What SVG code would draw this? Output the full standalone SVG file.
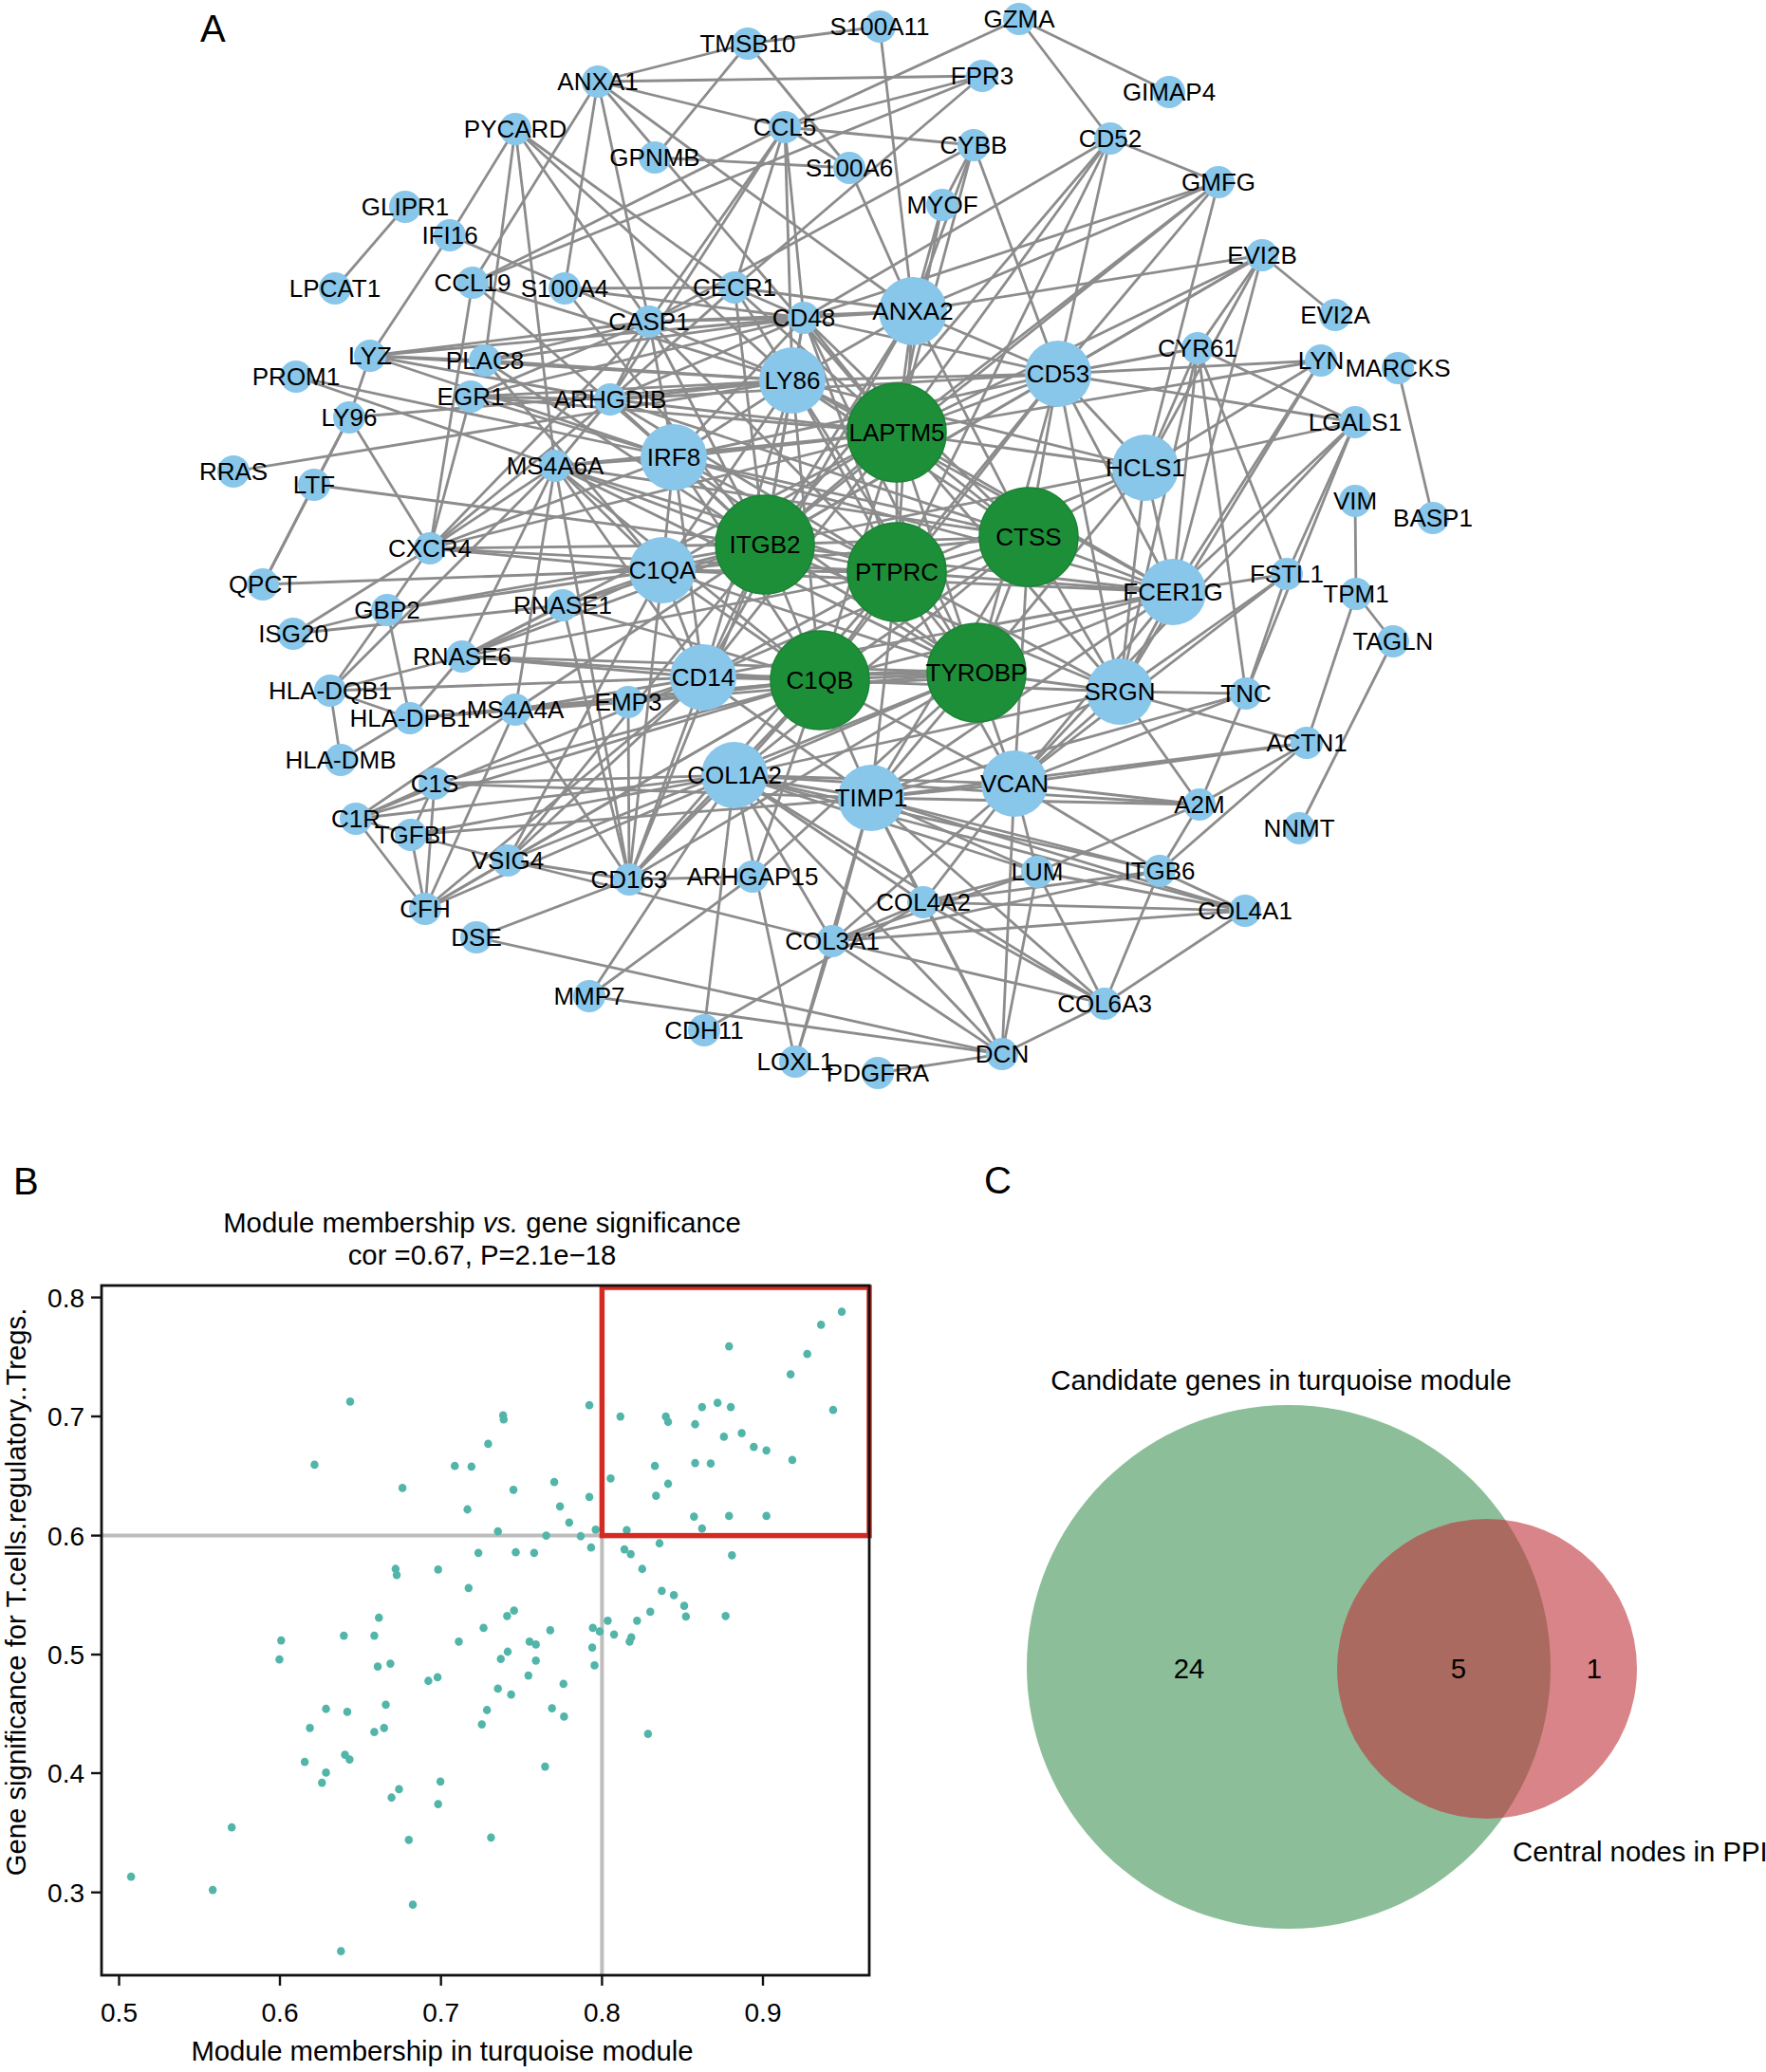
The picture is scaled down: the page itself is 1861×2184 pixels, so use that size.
<svg xmlns="http://www.w3.org/2000/svg" width="1861" height="2184" viewBox="0 0 1861 2184">
<style>
.e{stroke:#8c8c8c;stroke-width:2.8;fill:none}
.s{fill:#88c6ea}
.g{fill:#1e8f39;stroke:#188333;stroke-width:1.5}
.nl{font-family:"Liberation Sans",Arial,sans-serif;font-size:26px;fill:#000;text-anchor:middle}
.pl{font-family:"Liberation Sans",Arial,sans-serif;font-size:40px;fill:#000}
.t{font-family:"Liberation Sans",Arial,sans-serif;font-size:29.3px;fill:#000}
.tk{font-family:"Liberation Sans",Arial,sans-serif;font-size:28px;fill:#000}
.pt{fill:#52b5a9}
</style>
<rect width="1861" height="2184" fill="#fff"/>
<text class="pl" x="211" y="44">A</text>
<text class="pl" x="14" y="1259">B</text>
<text class="pl" x="1037" y="1258">C</text>
<g id="connectors">
<line class="e" x1="788" y1="46" x2="927" y2="28"/>
<line class="e" x1="788" y1="46" x2="630" y2="86"/>
<line class="e" x1="788" y1="46" x2="690" y2="166"/>
<line class="e" x1="788" y1="46" x2="895" y2="177"/>
<line class="e" x1="630" y1="86" x2="1035" y2="80"/>
<line class="e" x1="630" y1="86" x2="827" y2="134"/>
<line class="e" x1="630" y1="86" x2="595" y2="304"/>
<line class="e" x1="630" y1="86" x2="962" y2="328"/>
<line class="e" x1="630" y1="86" x2="498" y2="298"/>
<line class="e" x1="630" y1="86" x2="945" y2="456"/>
<line class="e" x1="630" y1="86" x2="684" y2="339"/>
<line class="e" x1="690" y1="166" x2="895" y2="177"/>
<line class="e" x1="827" y1="134" x2="1035" y2="80"/>
<line class="e" x1="827" y1="134" x2="1026" y2="153"/>
<line class="e" x1="827" y1="134" x2="774" y2="303"/>
<line class="e" x1="827" y1="134" x2="847" y2="335"/>
<line class="e" x1="827" y1="134" x2="835" y2="401"/>
<line class="e" x1="827" y1="134" x2="684" y2="339"/>
<line class="e" x1="827" y1="134" x2="643" y2="421"/>
<line class="e" x1="1074" y1="20" x2="827" y2="134"/>
<line class="e" x1="1074" y1="20" x2="1170" y2="146"/>
<line class="e" x1="1074" y1="20" x2="1232" y2="97"/>
<line class="e" x1="927" y1="28" x2="962" y2="328"/>
<line class="e" x1="1035" y1="80" x2="498" y2="298"/>
<line class="e" x1="1035" y1="80" x2="774" y2="303"/>
<line class="e" x1="1026" y1="153" x2="993" y2="216"/>
<line class="e" x1="1026" y1="153" x2="962" y2="328"/>
<line class="e" x1="1026" y1="153" x2="1115" y2="394"/>
<line class="e" x1="1026" y1="153" x2="684" y2="339"/>
<line class="e" x1="1026" y1="153" x2="945" y2="456"/>
<line class="e" x1="993" y1="216" x2="962" y2="328"/>
<line class="e" x1="993" y1="216" x2="945" y2="456"/>
<line class="e" x1="895" y1="177" x2="962" y2="328"/>
<line class="e" x1="895" y1="177" x2="827" y2="134"/>
<line class="e" x1="1170" y1="146" x2="1284" y2="192"/>
<line class="e" x1="1170" y1="146" x2="945" y2="456"/>
<line class="e" x1="1170" y1="146" x2="1115" y2="394"/>
<line class="e" x1="1170" y1="146" x2="806" y2="574"/>
<line class="e" x1="1170" y1="146" x2="945" y2="603"/>
<line class="e" x1="1170" y1="146" x2="847" y2="335"/>
<line class="e" x1="1284" y1="192" x2="962" y2="328"/>
<line class="e" x1="1284" y1="192" x2="847" y2="335"/>
<line class="e" x1="1284" y1="192" x2="1115" y2="394"/>
<line class="e" x1="1284" y1="192" x2="945" y2="456"/>
<line class="e" x1="1284" y1="192" x2="1207" y2="493"/>
<line class="e" x1="1284" y1="192" x2="806" y2="574"/>
<line class="e" x1="1330" y1="269" x2="1407" y2="332"/>
<line class="e" x1="1330" y1="269" x2="962" y2="328"/>
<line class="e" x1="1330" y1="269" x2="1115" y2="394"/>
<line class="e" x1="1330" y1="269" x2="1262" y2="367"/>
<line class="e" x1="1330" y1="269" x2="1207" y2="493"/>
<line class="e" x1="1330" y1="269" x2="945" y2="456"/>
<line class="e" x1="1330" y1="269" x2="806" y2="574"/>
<line class="e" x1="1330" y1="269" x2="1236" y2="624"/>
<line class="e" x1="543" y1="136" x2="474" y2="248"/>
<line class="e" x1="543" y1="136" x2="511" y2="380"/>
<line class="e" x1="543" y1="136" x2="684" y2="339"/>
<line class="e" x1="543" y1="136" x2="835" y2="401"/>
<line class="e" x1="543" y1="136" x2="585" y2="491"/>
<line class="e" x1="543" y1="136" x2="774" y2="303"/>
<line class="e" x1="427" y1="218" x2="353" y2="304"/>
<line class="e" x1="474" y1="248" x2="390" y2="375"/>
<line class="e" x1="474" y1="248" x2="684" y2="339"/>
<line class="e" x1="498" y1="298" x2="827" y2="134"/>
<line class="e" x1="498" y1="298" x2="453" y2="578"/>
<line class="e" x1="498" y1="298" x2="710" y2="482"/>
<line class="e" x1="498" y1="298" x2="835" y2="401"/>
<line class="e" x1="595" y1="304" x2="847" y2="335"/>
<line class="e" x1="595" y1="304" x2="774" y2="303"/>
<line class="e" x1="595" y1="304" x2="806" y2="574"/>
<line class="e" x1="390" y1="375" x2="684" y2="339"/>
<line class="e" x1="390" y1="375" x2="847" y2="335"/>
<line class="e" x1="390" y1="375" x2="511" y2="380"/>
<line class="e" x1="390" y1="375" x2="835" y2="401"/>
<line class="e" x1="390" y1="375" x2="643" y2="421"/>
<line class="e" x1="390" y1="375" x2="710" y2="482"/>
<line class="e" x1="390" y1="375" x2="368" y2="440"/>
<line class="e" x1="368" y1="440" x2="331" y2="511"/>
<line class="e" x1="331" y1="511" x2="277" y2="616"/>
<line class="e" x1="368" y1="440" x2="277" y2="616"/>
<line class="e" x1="312" y1="397" x2="710" y2="482"/>
<line class="e" x1="312" y1="397" x2="585" y2="491"/>
<line class="e" x1="368" y1="440" x2="453" y2="578"/>
<line class="e" x1="368" y1="440" x2="835" y2="401"/>
<line class="e" x1="496" y1="418" x2="643" y2="421"/>
<line class="e" x1="496" y1="418" x2="835" y2="401"/>
<line class="e" x1="496" y1="418" x2="453" y2="578"/>
<line class="e" x1="496" y1="418" x2="710" y2="482"/>
<line class="e" x1="496" y1="418" x2="945" y2="456"/>
<line class="e" x1="496" y1="418" x2="684" y2="339"/>
<line class="e" x1="246" y1="497" x2="835" y2="401"/>
<line class="e" x1="331" y1="511" x2="806" y2="574"/>
<line class="e" x1="511" y1="380" x2="684" y2="339"/>
<line class="e" x1="511" y1="380" x2="835" y2="401"/>
<line class="e" x1="511" y1="380" x2="806" y2="574"/>
<line class="e" x1="511" y1="380" x2="847" y2="335"/>
<line class="e" x1="511" y1="380" x2="698" y2="601"/>
<line class="e" x1="585" y1="491" x2="806" y2="574"/>
<line class="e" x1="585" y1="491" x2="945" y2="603"/>
<line class="e" x1="585" y1="491" x2="698" y2="601"/>
<line class="e" x1="585" y1="491" x2="864" y2="717"/>
<line class="e" x1="585" y1="491" x2="1029" y2="709"/>
<line class="e" x1="585" y1="491" x2="741" y2="714"/>
<line class="e" x1="585" y1="491" x2="945" y2="456"/>
<line class="e" x1="585" y1="491" x2="710" y2="482"/>
<line class="e" x1="585" y1="491" x2="453" y2="578"/>
<line class="e" x1="585" y1="491" x2="1084" y2="566"/>
<line class="e" x1="585" y1="491" x2="543" y2="748"/>
<line class="e" x1="585" y1="491" x2="663" y2="927"/>
<line class="e" x1="585" y1="491" x2="348" y2="728"/>
<line class="e" x1="453" y1="578" x2="698" y2="601"/>
<line class="e" x1="453" y1="578" x2="806" y2="574"/>
<line class="e" x1="453" y1="578" x2="945" y2="456"/>
<line class="e" x1="453" y1="578" x2="945" y2="603"/>
<line class="e" x1="453" y1="578" x2="408" y2="643"/>
<line class="e" x1="453" y1="578" x2="309" y2="668"/>
<line class="e" x1="453" y1="578" x2="710" y2="482"/>
<line class="e" x1="453" y1="578" x2="684" y2="339"/>
<line class="e" x1="277" y1="616" x2="698" y2="601"/>
<line class="e" x1="309" y1="668" x2="408" y2="643"/>
<line class="e" x1="309" y1="668" x2="593" y2="638"/>
<line class="e" x1="408" y1="643" x2="432" y2="757"/>
<line class="e" x1="408" y1="643" x2="348" y2="728"/>
<line class="e" x1="408" y1="643" x2="698" y2="601"/>
<line class="e" x1="408" y1="643" x2="806" y2="574"/>
<line class="e" x1="348" y1="728" x2="359" y2="801"/>
<line class="e" x1="348" y1="728" x2="432" y2="757"/>
<line class="e" x1="348" y1="728" x2="487" y2="692"/>
<line class="e" x1="348" y1="728" x2="741" y2="714"/>
<line class="e" x1="432" y1="757" x2="359" y2="801"/>
<line class="e" x1="432" y1="757" x2="487" y2="692"/>
<line class="e" x1="432" y1="757" x2="662" y2="740"/>
<line class="e" x1="432" y1="757" x2="864" y2="717"/>
<line class="e" x1="487" y1="692" x2="698" y2="601"/>
<line class="e" x1="487" y1="692" x2="806" y2="574"/>
<line class="e" x1="487" y1="692" x2="864" y2="717"/>
<line class="e" x1="487" y1="692" x2="1029" y2="709"/>
<line class="e" x1="487" y1="692" x2="945" y2="603"/>
<line class="e" x1="487" y1="692" x2="741" y2="714"/>
<line class="e" x1="487" y1="692" x2="945" y2="456"/>
<line class="e" x1="487" y1="692" x2="593" y2="638"/>
<line class="e" x1="487" y1="692" x2="585" y2="491"/>
<line class="e" x1="593" y1="638" x2="698" y2="601"/>
<line class="e" x1="593" y1="638" x2="864" y2="717"/>
<line class="e" x1="593" y1="638" x2="663" y2="927"/>
<line class="e" x1="593" y1="638" x2="806" y2="574"/>
<line class="e" x1="543" y1="748" x2="741" y2="714"/>
<line class="e" x1="543" y1="748" x2="864" y2="717"/>
<line class="e" x1="543" y1="748" x2="663" y2="927"/>
<line class="e" x1="543" y1="748" x2="375" y2="863"/>
<line class="e" x1="543" y1="748" x2="448" y2="958"/>
<line class="e" x1="543" y1="748" x2="806" y2="574"/>
<line class="e" x1="662" y1="740" x2="741" y2="714"/>
<line class="e" x1="662" y1="740" x2="864" y2="717"/>
<line class="e" x1="662" y1="740" x2="1029" y2="709"/>
<line class="e" x1="662" y1="740" x2="663" y2="927"/>
<line class="e" x1="458" y1="826" x2="375" y2="863"/>
<line class="e" x1="458" y1="826" x2="433" y2="880"/>
<line class="e" x1="458" y1="826" x2="448" y2="958"/>
<line class="e" x1="458" y1="826" x2="774" y2="817"/>
<line class="e" x1="458" y1="826" x2="864" y2="717"/>
<line class="e" x1="458" y1="826" x2="918" y2="841"/>
<line class="e" x1="375" y1="863" x2="433" y2="880"/>
<line class="e" x1="375" y1="863" x2="448" y2="958"/>
<line class="e" x1="375" y1="863" x2="774" y2="817"/>
<line class="e" x1="375" y1="863" x2="864" y2="717"/>
<line class="e" x1="375" y1="863" x2="741" y2="714"/>
<line class="e" x1="433" y1="880" x2="448" y2="958"/>
<line class="e" x1="433" y1="880" x2="535" y2="907"/>
<line class="e" x1="433" y1="880" x2="774" y2="817"/>
<line class="e" x1="433" y1="880" x2="918" y2="841"/>
<line class="e" x1="535" y1="907" x2="448" y2="958"/>
<line class="e" x1="535" y1="907" x2="663" y2="927"/>
<line class="e" x1="535" y1="907" x2="864" y2="717"/>
<line class="e" x1="535" y1="907" x2="698" y2="601"/>
<line class="e" x1="535" y1="907" x2="741" y2="714"/>
<line class="e" x1="535" y1="907" x2="806" y2="574"/>
<line class="e" x1="535" y1="907" x2="1029" y2="709"/>
<line class="e" x1="535" y1="907" x2="877" y2="992"/>
<line class="e" x1="448" y1="958" x2="774" y2="817"/>
<line class="e" x1="448" y1="958" x2="864" y2="717"/>
<line class="e" x1="448" y1="958" x2="741" y2="714"/>
<line class="e" x1="663" y1="927" x2="864" y2="717"/>
<line class="e" x1="663" y1="927" x2="698" y2="601"/>
<line class="e" x1="663" y1="927" x2="741" y2="714"/>
<line class="e" x1="663" y1="927" x2="1029" y2="709"/>
<line class="e" x1="663" y1="927" x2="806" y2="574"/>
<line class="e" x1="663" y1="927" x2="502" y2="988"/>
<line class="e" x1="663" y1="927" x2="774" y2="817"/>
<line class="e" x1="663" y1="927" x2="945" y2="603"/>
<line class="e" x1="502" y1="988" x2="1056" y2="1111"/>
<line class="e" x1="621" y1="1050" x2="774" y2="817"/>
<line class="e" x1="621" y1="1050" x2="793" y2="924"/>
<line class="e" x1="621" y1="1050" x2="1056" y2="1111"/>
<line class="e" x1="742" y1="1086" x2="774" y2="817"/>
<line class="e" x1="742" y1="1086" x2="973" y2="951"/>
<line class="e" x1="838" y1="1119" x2="774" y2="817"/>
<line class="e" x1="838" y1="1119" x2="918" y2="841"/>
<line class="e" x1="925" y1="1131" x2="1056" y2="1111"/>
<line class="e" x1="793" y1="924" x2="663" y2="927"/>
<line class="e" x1="793" y1="924" x2="864" y2="717"/>
<line class="e" x1="793" y1="924" x2="1029" y2="709"/>
<line class="e" x1="774" y1="817" x2="918" y2="841"/>
<line class="e" x1="774" y1="817" x2="1069" y2="826"/>
<line class="e" x1="774" y1="817" x2="877" y2="992"/>
<line class="e" x1="774" y1="817" x2="973" y2="951"/>
<line class="e" x1="774" y1="817" x2="1312" y2="960"/>
<line class="e" x1="774" y1="817" x2="1093" y2="919"/>
<line class="e" x1="774" y1="817" x2="1056" y2="1111"/>
<line class="e" x1="774" y1="817" x2="1164" y2="1058"/>
<line class="e" x1="774" y1="817" x2="1222" y2="918"/>
<line class="e" x1="774" y1="817" x2="1264" y2="848"/>
<line class="e" x1="774" y1="817" x2="864" y2="717"/>
<line class="e" x1="774" y1="817" x2="1180" y2="729"/>
<line class="e" x1="774" y1="817" x2="1029" y2="709"/>
<line class="e" x1="774" y1="817" x2="1084" y2="566"/>
<line class="e" x1="918" y1="841" x2="1069" y2="826"/>
<line class="e" x1="918" y1="841" x2="877" y2="992"/>
<line class="e" x1="918" y1="841" x2="973" y2="951"/>
<line class="e" x1="918" y1="841" x2="1312" y2="960"/>
<line class="e" x1="918" y1="841" x2="1093" y2="919"/>
<line class="e" x1="918" y1="841" x2="1222" y2="918"/>
<line class="e" x1="918" y1="841" x2="1264" y2="848"/>
<line class="e" x1="918" y1="841" x2="1056" y2="1111"/>
<line class="e" x1="918" y1="841" x2="1180" y2="729"/>
<line class="e" x1="918" y1="841" x2="1313" y2="731"/>
<line class="e" x1="918" y1="841" x2="1236" y2="624"/>
<line class="e" x1="918" y1="841" x2="1029" y2="709"/>
<line class="e" x1="918" y1="841" x2="864" y2="717"/>
<line class="e" x1="918" y1="841" x2="945" y2="603"/>
<line class="e" x1="918" y1="841" x2="1164" y2="1058"/>
<line class="e" x1="918" y1="841" x2="741" y2="714"/>
<line class="e" x1="918" y1="841" x2="1377" y2="783"/>
<line class="e" x1="1069" y1="826" x2="1180" y2="729"/>
<line class="e" x1="1069" y1="826" x2="1313" y2="731"/>
<line class="e" x1="1069" y1="826" x2="1377" y2="783"/>
<line class="e" x1="1069" y1="826" x2="1264" y2="848"/>
<line class="e" x1="1069" y1="826" x2="1093" y2="919"/>
<line class="e" x1="1069" y1="826" x2="1056" y2="1111"/>
<line class="e" x1="1069" y1="826" x2="1222" y2="918"/>
<line class="e" x1="1069" y1="826" x2="1029" y2="709"/>
<line class="e" x1="1069" y1="826" x2="1236" y2="624"/>
<line class="e" x1="1069" y1="826" x2="1356" y2="605"/>
<line class="e" x1="1069" y1="826" x2="877" y2="992"/>
<line class="e" x1="1069" y1="826" x2="973" y2="951"/>
<line class="e" x1="1069" y1="826" x2="1084" y2="566"/>
<line class="e" x1="1069" y1="826" x2="1428" y2="445"/>
<line class="e" x1="1069" y1="826" x2="864" y2="717"/>
<line class="e" x1="1093" y1="919" x2="1056" y2="1111"/>
<line class="e" x1="1093" y1="919" x2="1164" y2="1058"/>
<line class="e" x1="1093" y1="919" x2="973" y2="951"/>
<line class="e" x1="1093" y1="919" x2="1312" y2="960"/>
<line class="e" x1="1093" y1="919" x2="877" y2="992"/>
<line class="e" x1="1093" y1="919" x2="1264" y2="848"/>
<line class="e" x1="1222" y1="918" x2="1264" y2="848"/>
<line class="e" x1="1222" y1="918" x2="1377" y2="783"/>
<line class="e" x1="1222" y1="918" x2="1312" y2="960"/>
<line class="e" x1="1222" y1="918" x2="1164" y2="1058"/>
<line class="e" x1="1222" y1="918" x2="973" y2="951"/>
<line class="e" x1="1222" y1="918" x2="877" y2="992"/>
<line class="e" x1="973" y1="951" x2="1312" y2="960"/>
<line class="e" x1="973" y1="951" x2="1164" y2="1058"/>
<line class="e" x1="973" y1="951" x2="877" y2="992"/>
<line class="e" x1="973" y1="951" x2="1056" y2="1111"/>
<line class="e" x1="1312" y1="960" x2="1164" y2="1058"/>
<line class="e" x1="1312" y1="960" x2="877" y2="992"/>
<line class="e" x1="877" y1="992" x2="1056" y2="1111"/>
<line class="e" x1="877" y1="992" x2="1164" y2="1058"/>
<line class="e" x1="877" y1="992" x2="838" y2="1119"/>
<line class="e" x1="1164" y1="1058" x2="1056" y2="1111"/>
<line class="e" x1="1264" y1="848" x2="1180" y2="729"/>
<line class="e" x1="1264" y1="848" x2="1313" y2="731"/>
<line class="e" x1="1264" y1="848" x2="1377" y2="783"/>
<line class="e" x1="1377" y1="783" x2="1180" y2="729"/>
<line class="e" x1="1377" y1="783" x2="1429" y2="626"/>
<line class="e" x1="1468" y1="676" x2="1429" y2="626"/>
<line class="e" x1="1468" y1="676" x2="1369" y2="873"/>
<line class="e" x1="1429" y1="626" x2="1428" y2="528"/>
<line class="e" x1="1473" y1="388" x2="1510" y2="546"/>
<line class="e" x1="1428" y1="445" x2="1262" y2="367"/>
<line class="e" x1="1428" y1="445" x2="1115" y2="394"/>
<line class="e" x1="1428" y1="445" x2="1207" y2="493"/>
<line class="e" x1="1428" y1="445" x2="1356" y2="605"/>
<line class="e" x1="1428" y1="445" x2="1313" y2="731"/>
<line class="e" x1="1428" y1="445" x2="1236" y2="624"/>
<line class="e" x1="1392" y1="380" x2="1207" y2="493"/>
<line class="e" x1="1392" y1="380" x2="1236" y2="624"/>
<line class="e" x1="1392" y1="380" x2="1115" y2="394"/>
<line class="e" x1="1392" y1="380" x2="945" y2="456"/>
<line class="e" x1="1392" y1="380" x2="1180" y2="729"/>
<line class="e" x1="1262" y1="367" x2="1115" y2="394"/>
<line class="e" x1="1262" y1="367" x2="1207" y2="493"/>
<line class="e" x1="1262" y1="367" x2="1236" y2="624"/>
<line class="e" x1="1262" y1="367" x2="1356" y2="605"/>
<line class="e" x1="1262" y1="367" x2="1313" y2="731"/>
<line class="e" x1="1262" y1="367" x2="1180" y2="729"/>
<line class="e" x1="1356" y1="605" x2="1236" y2="624"/>
<line class="e" x1="1356" y1="605" x2="1313" y2="731"/>
<line class="e" x1="1356" y1="605" x2="1180" y2="729"/>
<line class="e" x1="1313" y1="731" x2="1180" y2="729"/>
<line class="e" x1="1207" y1="493" x2="945" y2="456"/>
<line class="e" x1="1207" y1="493" x2="1115" y2="394"/>
<line class="e" x1="1207" y1="493" x2="1236" y2="624"/>
<line class="e" x1="1207" y1="493" x2="1084" y2="566"/>
<line class="e" x1="1207" y1="493" x2="945" y2="603"/>
<line class="e" x1="1207" y1="493" x2="806" y2="574"/>
<line class="e" x1="1207" y1="493" x2="1029" y2="709"/>
<line class="e" x1="1207" y1="493" x2="1180" y2="729"/>
<line class="e" x1="1207" y1="493" x2="835" y2="401"/>
<line class="e" x1="1236" y1="624" x2="1084" y2="566"/>
<line class="e" x1="1236" y1="624" x2="1029" y2="709"/>
<line class="e" x1="1236" y1="624" x2="945" y2="603"/>
<line class="e" x1="1236" y1="624" x2="806" y2="574"/>
<line class="e" x1="1236" y1="624" x2="945" y2="456"/>
<line class="e" x1="1236" y1="624" x2="864" y2="717"/>
<line class="e" x1="1236" y1="624" x2="1180" y2="729"/>
<line class="e" x1="1236" y1="624" x2="698" y2="601"/>
<line class="e" x1="1236" y1="624" x2="741" y2="714"/>
<line class="e" x1="1236" y1="624" x2="1115" y2="394"/>
<line class="e" x1="1236" y1="624" x2="835" y2="401"/>
<line class="e" x1="1236" y1="624" x2="710" y2="482"/>
<line class="e" x1="1180" y1="729" x2="1029" y2="709"/>
<line class="e" x1="1180" y1="729" x2="1084" y2="566"/>
<line class="e" x1="1180" y1="729" x2="945" y2="603"/>
<line class="e" x1="1180" y1="729" x2="945" y2="456"/>
<line class="e" x1="1180" y1="729" x2="1115" y2="394"/>
<line class="e" x1="1180" y1="729" x2="806" y2="574"/>
<line class="e" x1="1180" y1="729" x2="864" y2="717"/>
<line class="e" x1="1115" y1="394" x2="945" y2="456"/>
<line class="e" x1="1115" y1="394" x2="962" y2="328"/>
<line class="e" x1="1115" y1="394" x2="847" y2="335"/>
<line class="e" x1="1115" y1="394" x2="835" y2="401"/>
<line class="e" x1="1115" y1="394" x2="806" y2="574"/>
<line class="e" x1="1115" y1="394" x2="945" y2="603"/>
<line class="e" x1="1115" y1="394" x2="1084" y2="566"/>
<line class="e" x1="1115" y1="394" x2="1029" y2="709"/>
<line class="e" x1="1115" y1="394" x2="864" y2="717"/>
<line class="e" x1="1115" y1="394" x2="710" y2="482"/>
<line class="e" x1="1115" y1="394" x2="643" y2="421"/>
<line class="e" x1="962" y1="328" x2="847" y2="335"/>
<line class="e" x1="962" y1="328" x2="835" y2="401"/>
<line class="e" x1="962" y1="328" x2="945" y2="456"/>
<line class="e" x1="962" y1="328" x2="774" y2="303"/>
<line class="e" x1="962" y1="328" x2="684" y2="339"/>
<line class="e" x1="962" y1="328" x2="806" y2="574"/>
<line class="e" x1="962" y1="328" x2="945" y2="603"/>
<line class="e" x1="962" y1="328" x2="1084" y2="566"/>
<line class="e" x1="962" y1="328" x2="741" y2="714"/>
<line class="e" x1="847" y1="335" x2="835" y2="401"/>
<line class="e" x1="847" y1="335" x2="945" y2="456"/>
<line class="e" x1="847" y1="335" x2="774" y2="303"/>
<line class="e" x1="847" y1="335" x2="684" y2="339"/>
<line class="e" x1="847" y1="335" x2="806" y2="574"/>
<line class="e" x1="847" y1="335" x2="945" y2="603"/>
<line class="e" x1="847" y1="335" x2="1084" y2="566"/>
<line class="e" x1="847" y1="335" x2="1029" y2="709"/>
<line class="e" x1="847" y1="335" x2="710" y2="482"/>
<line class="e" x1="847" y1="335" x2="643" y2="421"/>
<line class="e" x1="847" y1="335" x2="496" y2="418"/>
<line class="e" x1="774" y1="303" x2="684" y2="339"/>
<line class="e" x1="774" y1="303" x2="835" y2="401"/>
<line class="e" x1="774" y1="303" x2="806" y2="574"/>
<line class="e" x1="774" y1="303" x2="643" y2="421"/>
<line class="e" x1="774" y1="303" x2="945" y2="456"/>
<line class="e" x1="684" y1="339" x2="643" y2="421"/>
<line class="e" x1="684" y1="339" x2="835" y2="401"/>
<line class="e" x1="684" y1="339" x2="710" y2="482"/>
<line class="e" x1="684" y1="339" x2="806" y2="574"/>
<line class="e" x1="684" y1="339" x2="945" y2="603"/>
<line class="e" x1="643" y1="421" x2="835" y2="401"/>
<line class="e" x1="643" y1="421" x2="945" y2="456"/>
<line class="e" x1="643" y1="421" x2="806" y2="574"/>
<line class="e" x1="643" y1="421" x2="945" y2="603"/>
<line class="e" x1="643" y1="421" x2="1084" y2="566"/>
<line class="e" x1="643" y1="421" x2="710" y2="482"/>
<line class="e" x1="643" y1="421" x2="585" y2="491"/>
<line class="e" x1="643" y1="421" x2="453" y2="578"/>
<line class="e" x1="835" y1="401" x2="945" y2="456"/>
<line class="e" x1="835" y1="401" x2="806" y2="574"/>
<line class="e" x1="835" y1="401" x2="945" y2="603"/>
<line class="e" x1="835" y1="401" x2="1084" y2="566"/>
<line class="e" x1="835" y1="401" x2="1029" y2="709"/>
<line class="e" x1="835" y1="401" x2="864" y2="717"/>
<line class="e" x1="835" y1="401" x2="710" y2="482"/>
<line class="e" x1="835" y1="401" x2="698" y2="601"/>
<line class="e" x1="835" y1="401" x2="741" y2="714"/>
<line class="e" x1="710" y1="482" x2="945" y2="456"/>
<line class="e" x1="710" y1="482" x2="806" y2="574"/>
<line class="e" x1="710" y1="482" x2="945" y2="603"/>
<line class="e" x1="710" y1="482" x2="1084" y2="566"/>
<line class="e" x1="710" y1="482" x2="1029" y2="709"/>
<line class="e" x1="710" y1="482" x2="864" y2="717"/>
<line class="e" x1="710" y1="482" x2="698" y2="601"/>
<line class="e" x1="710" y1="482" x2="741" y2="714"/>
<line class="e" x1="945" y1="456" x2="806" y2="574"/>
<line class="e" x1="945" y1="456" x2="945" y2="603"/>
<line class="e" x1="945" y1="456" x2="1084" y2="566"/>
<line class="e" x1="945" y1="456" x2="1029" y2="709"/>
<line class="e" x1="945" y1="456" x2="864" y2="717"/>
<line class="e" x1="806" y1="574" x2="945" y2="603"/>
<line class="e" x1="806" y1="574" x2="1084" y2="566"/>
<line class="e" x1="806" y1="574" x2="1029" y2="709"/>
<line class="e" x1="806" y1="574" x2="864" y2="717"/>
<line class="e" x1="945" y1="603" x2="1084" y2="566"/>
<line class="e" x1="945" y1="603" x2="1029" y2="709"/>
<line class="e" x1="945" y1="603" x2="864" y2="717"/>
<line class="e" x1="1084" y1="566" x2="1029" y2="709"/>
<line class="e" x1="1084" y1="566" x2="864" y2="717"/>
<line class="e" x1="1029" y1="709" x2="864" y2="717"/>
<line class="e" x1="1029" y1="705" x2="864" y2="712"/>
<line class="e" x1="1029" y1="714" x2="864" y2="722"/>
<line class="e" x1="698" y1="601" x2="806" y2="574"/>
<line class="e" x1="698" y1="601" x2="945" y2="603"/>
<line class="e" x1="698" y1="601" x2="864" y2="717"/>
<line class="e" x1="698" y1="601" x2="1029" y2="709"/>
<line class="e" x1="698" y1="601" x2="1084" y2="566"/>
<line class="e" x1="698" y1="601" x2="945" y2="456"/>
<line class="e" x1="698" y1="601" x2="741" y2="714"/>
<line class="e" x1="741" y1="714" x2="864" y2="717"/>
<line class="e" x1="741" y1="714" x2="806" y2="574"/>
<line class="e" x1="741" y1="714" x2="945" y2="603"/>
<line class="e" x1="741" y1="714" x2="1029" y2="709"/>
<line class="e" x1="741" y1="714" x2="1084" y2="566"/>
<line class="e" x1="741" y1="714" x2="945" y2="456"/>
<line class="e" x1="1084" y1="566" x2="918" y2="841"/>
<line class="e" x1="945" y1="603" x2="1069" y2="826"/>
</g>
<g id="nodes">
<g id="n-TMSB10"><circle class="s" cx="788" cy="46" r="17"/><text class="nl" x="788" y="55">TMSB10</text></g>
<g id="n-S100A11"><circle class="s" cx="927" cy="28" r="17"/><text class="nl" x="927" y="37">S100A11</text></g>
<g id="n-GZMA"><circle class="s" cx="1074" cy="20" r="17"/><text class="nl" x="1074" y="29">GZMA</text></g>
<g id="n-FPR3"><circle class="s" cx="1035" cy="80" r="17"/><text class="nl" x="1035" y="89">FPR3</text></g>
<g id="n-GIMAP4"><circle class="s" cx="1232" cy="97" r="17"/><text class="nl" x="1232" y="106">GIMAP4</text></g>
<g id="n-ANXA1"><circle class="s" cx="630" cy="86" r="17"/><text class="nl" x="630" y="95">ANXA1</text></g>
<g id="n-PYCARD"><circle class="s" cx="543" cy="136" r="17"/><text class="nl" x="543" y="145">PYCARD</text></g>
<g id="n-CCL5"><circle class="s" cx="827" cy="134" r="17"/><text class="nl" x="827" y="143">CCL5</text></g>
<g id="n-GPNMB"><circle class="s" cx="690" cy="166" r="17"/><text class="nl" x="690" y="175">GPNMB</text></g>
<g id="n-S100A6"><circle class="s" cx="895" cy="177" r="17"/><text class="nl" x="895" y="186">S100A6</text></g>
<g id="n-CYBB"><circle class="s" cx="1026" cy="153" r="17"/><text class="nl" x="1026" y="162">CYBB</text></g>
<g id="n-CD52"><circle class="s" cx="1170" cy="146" r="17"/><text class="nl" x="1170" y="155">CD52</text></g>
<g id="n-MYOF"><circle class="s" cx="993" cy="216" r="17"/><text class="nl" x="993" y="225">MYOF</text></g>
<g id="n-GMFG"><circle class="s" cx="1284" cy="192" r="17"/><text class="nl" x="1284" y="201">GMFG</text></g>
<g id="n-GLIPR1"><circle class="s" cx="427" cy="218" r="17"/><text class="nl" x="427" y="227">GLIPR1</text></g>
<g id="n-IFI16"><circle class="s" cx="474" cy="248" r="17"/><text class="nl" x="474" y="257">IFI16</text></g>
<g id="n-EVI2B"><circle class="s" cx="1330" cy="269" r="17"/><text class="nl" x="1330" y="278">EVI2B</text></g>
<g id="n-LPCAT1"><circle class="s" cx="353" cy="304" r="17"/><text class="nl" x="353" y="313">LPCAT1</text></g>
<g id="n-CCL19"><circle class="s" cx="498" cy="298" r="17"/><text class="nl" x="498" y="307">CCL19</text></g>
<g id="n-S100A4"><circle class="s" cx="595" cy="304" r="17"/><text class="nl" x="595" y="313">S100A4</text></g>
<g id="n-CECR1"><circle class="s" cx="774" cy="303" r="17"/><text class="nl" x="774" y="312">CECR1</text></g>
<g id="n-CASP1"><circle class="s" cx="684" cy="339" r="17"/><text class="nl" x="684" y="348">CASP1</text></g>
<g id="n-CD48"><circle class="s" cx="847" cy="335" r="17"/><text class="nl" x="847" y="344">CD48</text></g>
<g id="n-EVI2A"><circle class="s" cx="1407" cy="332" r="17"/><text class="nl" x="1407" y="341">EVI2A</text></g>
<g id="n-CYR61"><circle class="s" cx="1262" cy="367" r="17"/><text class="nl" x="1262" y="376">CYR61</text></g>
<g id="n-LYN"><circle class="s" cx="1392" cy="380" r="17"/><text class="nl" x="1392" y="389">LYN</text></g>
<g id="n-MARCKS"><circle class="s" cx="1473" cy="388" r="17"/><text class="nl" x="1473" y="397">MARCKS</text></g>
<g id="n-LYZ"><circle class="s" cx="390" cy="375" r="17"/><text class="nl" x="390" y="384">LYZ</text></g>
<g id="n-PLAC8"><circle class="s" cx="511" cy="380" r="17"/><text class="nl" x="511" y="389">PLAC8</text></g>
<g id="n-PROM1"><circle class="s" cx="312" cy="397" r="17"/><text class="nl" x="312" y="406">PROM1</text></g>
<g id="n-EGR1"><circle class="s" cx="496" cy="418" r="17"/><text class="nl" x="496" y="427">EGR1</text></g>
<g id="n-ARHGDIB"><circle class="s" cx="643" cy="421" r="17"/><text class="nl" x="643" y="430">ARHGDIB</text></g>
<g id="n-LGALS1"><circle class="s" cx="1428" cy="445" r="17"/><text class="nl" x="1428" y="454">LGALS1</text></g>
<g id="n-LY96"><circle class="s" cx="368" cy="440" r="17"/><text class="nl" x="368" y="449">LY96</text></g>
<g id="n-RRAS"><circle class="s" cx="246" cy="497" r="17"/><text class="nl" x="246" y="506">RRAS</text></g>
<g id="n-LTF"><circle class="s" cx="331" cy="511" r="17"/><text class="nl" x="331" y="520">LTF</text></g>
<g id="n-MS4A6A"><circle class="s" cx="585" cy="491" r="17"/><text class="nl" x="585" y="500">MS4A6A</text></g>
<g id="n-CXCR4"><circle class="s" cx="453" cy="578" r="17"/><text class="nl" x="453" y="587">CXCR4</text></g>
<g id="n-VIM"><circle class="s" cx="1428" cy="528" r="17"/><text class="nl" x="1428" y="537">VIM</text></g>
<g id="n-BASP1"><circle class="s" cx="1510" cy="546" r="17"/><text class="nl" x="1510" y="555">BASP1</text></g>
<g id="n-FSTL1"><circle class="s" cx="1356" cy="605" r="17"/><text class="nl" x="1356" y="614">FSTL1</text></g>
<g id="n-TPM1"><circle class="s" cx="1429" cy="626" r="17"/><text class="nl" x="1429" y="635">TPM1</text></g>
<g id="n-QPCT"><circle class="s" cx="277" cy="616" r="17"/><text class="nl" x="277" y="625">QPCT</text></g>
<g id="n-GBP2"><circle class="s" cx="408" cy="643" r="17"/><text class="nl" x="408" y="652">GBP2</text></g>
<g id="n-RNASE1"><circle class="s" cx="593" cy="638" r="17"/><text class="nl" x="593" y="647">RNASE1</text></g>
<g id="n-ISG20"><circle class="s" cx="309" cy="668" r="17"/><text class="nl" x="309" y="677">ISG20</text></g>
<g id="n-TAGLN"><circle class="s" cx="1468" cy="676" r="17"/><text class="nl" x="1468" y="685">TAGLN</text></g>
<g id="n-RNASE6"><circle class="s" cx="487" cy="692" r="17"/><text class="nl" x="487" y="701">RNASE6</text></g>
<g id="n-TNC"><circle class="s" cx="1313" cy="731" r="17"/><text class="nl" x="1313" y="740">TNC</text></g>
<g id="n-HLA-DQB1"><circle class="s" cx="348" cy="728" r="17"/><text class="nl" x="348" y="737">HLA-DQB1</text></g>
<g id="n-HLA-DPB1"><circle class="s" cx="432" cy="757" r="17"/><text class="nl" x="432" y="766">HLA-DPB1</text></g>
<g id="n-MS4A4A"><circle class="s" cx="543" cy="748" r="17"/><text class="nl" x="543" y="757">MS4A4A</text></g>
<g id="n-EMP3"><circle class="s" cx="662" cy="740" r="17"/><text class="nl" x="662" y="749">EMP3</text></g>
<g id="n-ACTN1"><circle class="s" cx="1377" cy="783" r="17"/><text class="nl" x="1377" y="792">ACTN1</text></g>
<g id="n-HLA-DMB"><circle class="s" cx="359" cy="801" r="17"/><text class="nl" x="359" y="810">HLA-DMB</text></g>
<g id="n-C1S"><circle class="s" cx="458" cy="826" r="17"/><text class="nl" x="458" y="835">C1S</text></g>
<g id="n-A2M"><circle class="s" cx="1264" cy="848" r="17"/><text class="nl" x="1264" y="857">A2M</text></g>
<g id="n-C1R"><circle class="s" cx="375" cy="863" r="17"/><text class="nl" x="375" y="872">C1R</text></g>
<g id="n-TGFBI"><circle class="s" cx="433" cy="880" r="17"/><text class="nl" x="433" y="889">TGFBI</text></g>
<g id="n-NNMT"><circle class="s" cx="1369" cy="873" r="17"/><text class="nl" x="1369" y="882">NNMT</text></g>
<g id="n-VSIG4"><circle class="s" cx="535" cy="907" r="17"/><text class="nl" x="535" y="916">VSIG4</text></g>
<g id="n-CD163"><circle class="s" cx="663" cy="927" r="17"/><text class="nl" x="663" y="936">CD163</text></g>
<g id="n-ARHGAP15"><circle class="s" cx="793" cy="924" r="17"/><text class="nl" x="793" y="933">ARHGAP15</text></g>
<g id="n-LUM"><circle class="s" cx="1093" cy="919" r="17"/><text class="nl" x="1093" y="928">LUM</text></g>
<g id="n-ITGB6"><circle class="s" cx="1222" cy="918" r="17"/><text class="nl" x="1222" y="927">ITGB6</text></g>
<g id="n-CFH"><circle class="s" cx="448" cy="958" r="17"/><text class="nl" x="448" y="967">CFH</text></g>
<g id="n-COL4A2"><circle class="s" cx="973" cy="951" r="17"/><text class="nl" x="973" y="960">COL4A2</text></g>
<g id="n-COL4A1"><circle class="s" cx="1312" cy="960" r="17"/><text class="nl" x="1312" y="969">COL4A1</text></g>
<g id="n-DSE"><circle class="s" cx="502" cy="988" r="17"/><text class="nl" x="502" y="997">DSE</text></g>
<g id="n-COL3A1"><circle class="s" cx="877" cy="992" r="17"/><text class="nl" x="877" y="1001">COL3A1</text></g>
<g id="n-MMP7"><circle class="s" cx="621" cy="1050" r="17"/><text class="nl" x="621" y="1059">MMP7</text></g>
<g id="n-COL6A3"><circle class="s" cx="1164" cy="1058" r="17"/><text class="nl" x="1164" y="1067">COL6A3</text></g>
<g id="n-CDH11"><circle class="s" cx="742" cy="1086" r="17"/><text class="nl" x="742" y="1095">CDH11</text></g>
<g id="n-LOXL1"><circle class="s" cx="838" cy="1119" r="17"/><text class="nl" x="838" y="1128">LOXL1</text></g>
<g id="n-DCN"><circle class="s" cx="1056" cy="1111" r="17"/><text class="nl" x="1056" y="1120">DCN</text></g>
<g id="n-PDGFRA"><circle class="s" cx="925" cy="1131" r="17"/><text class="nl" x="925" y="1140">PDGFRA</text></g>
<g id="n-ANXA2"><circle class="s" cx="962" cy="328" r="36"/><text class="nl" x="962" y="337">ANXA2</text></g>
<g id="n-LY86"><circle class="s" cx="835" cy="401" r="35"/><text class="nl" x="835" y="410">LY86</text></g>
<g id="n-CD53"><circle class="s" cx="1115" cy="394" r="35"/><text class="nl" x="1115" y="403">CD53</text></g>
<g id="n-IRF8"><circle class="s" cx="710" cy="482" r="35"/><text class="nl" x="710" y="491">IRF8</text></g>
<g id="n-HCLS1"><circle class="s" cx="1207" cy="493" r="35"/><text class="nl" x="1207" y="502">HCLS1</text></g>
<g id="n-C1QA"><circle class="s" cx="698" cy="601" r="35"/><text class="nl" x="698" y="610">C1QA</text></g>
<g id="n-FCER1G"><circle class="s" cx="1236" cy="624" r="35"/><text class="nl" x="1236" y="633">FCER1G</text></g>
<g id="n-CD14"><circle class="s" cx="741" cy="714" r="35"/><text class="nl" x="741" y="723">CD14</text></g>
<g id="n-SRGN"><circle class="s" cx="1180" cy="729" r="35"/><text class="nl" x="1180" y="738">SRGN</text></g>
<g id="n-COL1A2"><circle class="s" cx="774" cy="817" r="35"/><text class="nl" x="774" y="826">COL1A2</text></g>
<g id="n-TIMP1"><circle class="s" cx="918" cy="841" r="35"/><text class="nl" x="918" y="850">TIMP1</text></g>
<g id="n-VCAN"><circle class="s" cx="1069" cy="826" r="35"/><text class="nl" x="1069" y="835">VCAN</text></g>
<g id="n-LAPTM5"><circle class="g" cx="945" cy="456" r="52"/><text class="nl" x="945" y="465">LAPTM5</text></g>
<g id="n-ITGB2"><circle class="g" cx="806" cy="574" r="52"/><text class="nl" x="806" y="583">ITGB2</text></g>
<g id="n-PTPRC"><circle class="g" cx="945" cy="603" r="52"/><text class="nl" x="945" y="612">PTPRC</text></g>
<g id="n-CTSS"><circle class="g" cx="1084" cy="566" r="52"/><text class="nl" x="1084" y="575">CTSS</text></g>
<g id="n-C1QB"><circle class="g" cx="864" cy="717" r="52"/><text class="nl" x="864" y="726">C1QB</text></g>
<g id="n-TYROBP"><circle class="g" cx="1029" cy="709" r="52"/><text class="nl" x="1029" y="718">TYROBP</text></g>
</g>
<g id="panel-B">
<text class="t" x="508" y="1299" text-anchor="middle">Module membership <tspan font-style="italic">vs.</tspan> gene significance</text>
<text class="t" x="508" y="1333" text-anchor="middle">cor =0.67, P=2.1e−18</text>
<line x1="107" y1="1618.6" x2="634.4" y2="1618.6" stroke="#bdbdbd" stroke-width="4"/>
<line x1="634.4" y1="1618.6" x2="634.4" y2="2082" stroke="#bdbdbd" stroke-width="4"/>
<g transform="translate(0,1200) scale(0.6059,0.6276)">
<circle class="pt" cx="228" cy="1240" r="7"/><circle class="pt" cx="370" cy="1262" r="7"/><circle class="pt" cx="403" cy="1157" r="7"/><circle class="pt" cx="593" cy="1365" r="7"/>
<circle class="pt" cx="486" cy="875" r="7"/><circle class="pt" cx="489" cy="843" r="7"/><circle class="pt" cx="530" cy="1047" r="7"/><circle class="pt" cx="539" cy="990" r="7"/>
<circle class="pt" cx="560" cy="1082" r="7"/><circle class="pt" cx="567" cy="958" r="7"/><circle class="pt" cx="567" cy="1065" r="7"/><circle class="pt" cx="598" cy="835" r="7"/>
<circle class="pt" cx="600" cy="1035" r="7"/><circle class="pt" cx="604" cy="963" r="7"/><circle class="pt" cx="608" cy="1043" r="7"/><circle class="pt" cx="609" cy="442" r="7"/>
<circle class="pt" cx="547" cy="548" r="7"/><circle class="pt" cx="651" cy="835" r="7"/><circle class="pt" cx="651" cy="997" r="7"/><circle class="pt" cx="659" cy="805" r="7"/>
<circle class="pt" cx="657" cy="887" r="7"/><circle class="pt" cx="668" cy="990" r="7"/><circle class="pt" cx="671" cy="951" r="7"/><circle class="pt" cx="679" cy="882" r="7"/>
<circle class="pt" cx="681" cy="1107" r="7"/><circle class="pt" cx="694" cy="1093" r="7"/><circle class="pt" cx="688" cy="723" r="7"/><circle class="pt" cx="690" cy="733" r="7"/>
<circle class="pt" cx="700" cy="587" r="7"/><circle class="pt" cx="711" cy="1178" r="7"/><circle class="pt" cx="718" cy="1287" r="7"/><circle class="pt" cx="745" cy="911" r="7"/>
<circle class="pt" cx="761" cy="905" r="7"/><circle class="pt" cx="762" cy="724" r="7"/><circle class="pt" cx="766" cy="1080" r="7"/><circle class="pt" cx="762" cy="1118" r="7"/>
<circle class="pt" cx="791" cy="550" r="7"/><circle class="pt" cx="798" cy="845" r="7"/><circle class="pt" cx="813" cy="623" r="7"/><circle class="pt" cx="815" cy="755" r="7"/>
<circle class="pt" cx="820" cy="551" r="7"/><circle class="pt" cx="832" cy="696" r="7"/><circle class="pt" cx="838" cy="984" r="7"/><circle class="pt" cx="841" cy="822" r="7"/>
<circle class="pt" cx="847" cy="960" r="7"/><circle class="pt" cx="849" cy="513" r="7"/><circle class="pt" cx="854" cy="1174" r="7"/><circle class="pt" cx="866" cy="660" r="7"/>
<circle class="pt" cx="866" cy="924" r="7"/><circle class="pt" cx="871" cy="874" r="7"/><circle class="pt" cx="875" cy="465" r="7"/><circle class="pt" cx="876" cy="472" r="7"/>
<circle class="pt" cx="882" cy="802" r="7"/><circle class="pt" cx="883" cy="862" r="7"/><circle class="pt" cx="889" cy="934" r="7"/><circle class="pt" cx="893" cy="590" r="7"/>
<circle class="pt" cx="894" cy="793" r="7"/><circle class="pt" cx="897" cy="695" r="7"/><circle class="pt" cx="919" cy="902" r="7"/><circle class="pt" cx="921" cy="845" r="7"/>
<circle class="pt" cx="929" cy="696" r="7"/><circle class="pt" cx="932" cy="850" r="7"/><circle class="pt" cx="932" cy="877" r="7"/><circle class="pt" cx="948" cy="1055" r="7"/>
<circle class="pt" cx="950" cy="667" r="7"/><circle class="pt" cx="957" cy="826" r="7"/><circle class="pt" cx="960" cy="957" r="7"/><circle class="pt" cx="964" cy="577" r="7"/>
<circle class="pt" cx="974" cy="618" r="7"/><circle class="pt" cx="980" cy="916" r="7"/><circle class="pt" cx="981" cy="971" r="7"/><circle class="pt" cx="990" cy="645" r="7"/>
<circle class="pt" cx="1010" cy="668" r="7"/><circle class="pt" cx="1025" cy="602" r="7"/><circle class="pt" cx="1025" cy="448" r="7"/><circle class="pt" cx="1028" cy="687" r="7"/>
<circle class="pt" cx="1030" cy="855" r="7"/><circle class="pt" cx="1031" cy="822" r="7"/><circle class="pt" cx="1034" cy="885" r="7"/><circle class="pt" cx="1036" cy="657" r="7"/>
<circle class="pt" cx="1043" cy="828" r="7"/><circle class="pt" cx="1057" cy="810" r="7"/><circle class="pt" cx="1062" cy="571" r="7"/><circle class="pt" cx="1068" cy="833" r="7"/>
<circle class="pt" cx="1079" cy="467" r="7"/><circle class="pt" cx="1086" cy="690" r="7"/><circle class="pt" cx="1090" cy="658" r="7"/><circle class="pt" cx="1097" cy="698" r="7"/>
<circle class="pt" cx="1095" cy="845" r="7"/><circle class="pt" cx="1098" cy="838" r="7"/><circle class="pt" cx="1108" cy="810" r="7"/><circle class="pt" cx="1117" cy="723" r="7"/>
<circle class="pt" cx="1127" cy="1000" r="7"/><circle class="pt" cx="1131" cy="795" r="7"/><circle class="pt" cx="1139" cy="550" r="7"/><circle class="pt" cx="1141" cy="600" r="7"/>
<circle class="pt" cx="1147" cy="680" r="7"/><circle class="pt" cx="1151" cy="760" r="7"/><circle class="pt" cx="1158" cy="467" r="7"/><circle class="pt" cx="1162" cy="476" r="7"/>
<circle class="pt" cx="1162" cy="580" r="7"/><circle class="pt" cx="1172" cy="767" r="7"/><circle class="pt" cx="1190" cy="785" r="7"/><circle class="pt" cx="1193" cy="803" r="7"/>
<circle class="pt" cx="1207" cy="635" r="7"/><circle class="pt" cx="1209" cy="480" r="7"/><circle class="pt" cx="1209" cy="545" r="7"/><circle class="pt" cx="1221" cy="451" r="7"/>
<circle class="pt" cx="1221" cy="655" r="7"/><circle class="pt" cx="1236" cy="546" r="7"/><circle class="pt" cx="1248" cy="444" r="7"/><circle class="pt" cx="1259" cy="501" r="7"/>
<circle class="pt" cx="1262" cy="802" r="7"/><circle class="pt" cx="1268" cy="349" r="7"/><circle class="pt" cx="1268" cy="634" r="7"/><circle class="pt" cx="1271" cy="451" r="7"/>
<circle class="pt" cx="1273" cy="700" r="7"/><circle class="pt" cx="1290" cy="495" r="7"/><circle class="pt" cx="1311" cy="518" r="7"/><circle class="pt" cx="1333" cy="524" r="7"/>
<circle class="pt" cx="1333" cy="634" r="7"/><circle class="pt" cx="1375" cy="396" r="7"/><circle class="pt" cx="1378" cy="540" r="7"/><circle class="pt" cx="1404" cy="362" r="7"/>
<circle class="pt" cx="1428" cy="313" r="7"/><circle class="pt" cx="1449" cy="456" r="7"/><circle class="pt" cx="1464" cy="291" r="7"/>
</g>
<rect x="634.4" y="1357" width="281.6" height="261.6" fill="none" stroke="#d52a22" stroke-width="5.5"/>
<rect x="107" y="1355" width="809" height="727" fill="none" stroke="#111" stroke-width="2.8"/>
<g stroke="#111" stroke-width="2.4">
<line x1="96" y1="1367.6" x2="107" y2="1367.6"/><line x1="96" y1="1493" x2="107" y2="1493"/><line x1="96" y1="1618.6" x2="107" y2="1618.6"/>
<line x1="96" y1="1744" x2="107" y2="1744"/><line x1="96" y1="1869" x2="107" y2="1869"/><line x1="96" y1="1994.7" x2="107" y2="1994.7"/>
<line x1="125.5" y1="2082" x2="125.5" y2="2093"/><line x1="295" y1="2082" x2="295" y2="2093"/><line x1="464.7" y1="2082" x2="464.7" y2="2093"/>
<line x1="634.4" y1="2082" x2="634.4" y2="2093"/><line x1="804" y1="2082" x2="804" y2="2093"/>
</g>
<g class="tk" text-anchor="end">
<text x="89" y="1378">0.8</text><text x="89" y="1503">0.7</text><text x="89" y="1629">0.6</text>
<text x="89" y="1754">0.5</text><text x="89" y="1879">0.4</text><text x="89" y="2005">0.3</text>
</g>
<g class="tk" text-anchor="middle">
<text x="125.5" y="2131">0.5</text><text x="295" y="2131">0.6</text><text x="464.7" y="2131">0.7</text>
<text x="634.4" y="2131">0.8</text><text x="804" y="2131">0.9</text>
</g>
<text class="t" x="466" y="2172" text-anchor="middle">Module membership in turquoise module</text>
<text class="t" transform="translate(27,1678) rotate(-90)" text-anchor="middle">Gene significance for T.cells.regulatory..Tregs.</text>
</g>
<g id="panel-C">
<circle cx="1358" cy="1757" r="276" fill="#8cbf99"/>
<circle cx="1567" cy="1759" r="158" fill="#c03238" fill-opacity="0.6"/>
<text class="t" x="1350" y="1465" text-anchor="middle">Candidate genes in turquoise module</text>
<text class="t" x="1253" y="1769" text-anchor="middle">24</text>
<text class="t" x="1537" y="1769" text-anchor="middle">5</text>
<text class="t" x="1680" y="1769" text-anchor="middle">1</text>
<text class="t" x="1594" y="1962">Central nodes in PPI</text>
</g>
</svg>
